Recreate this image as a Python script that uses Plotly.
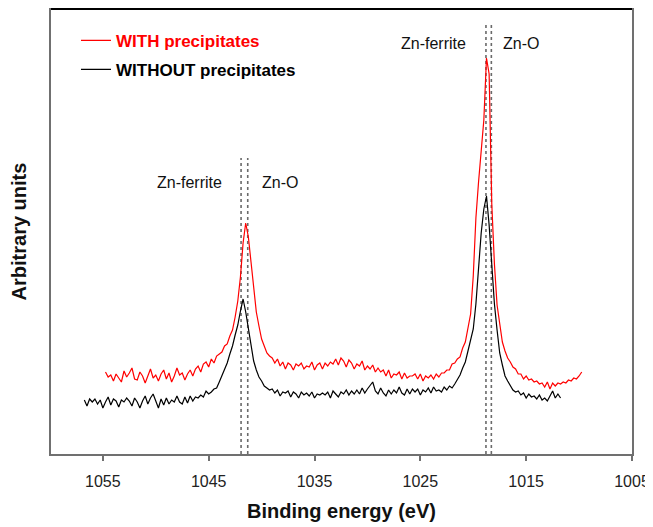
import plotly.graph_objects as go

# Binding energy grid (eV), 0.25 eV step
energy = [
    1056.75, 1056.50, 1056.25, 1056.00, 1055.75, 1055.50, 1055.25, 1055.00,
    1054.75, 1054.50, 1054.25, 1054.00, 1053.75, 1053.50, 1053.25, 1053.00,
    1052.75, 1052.50, 1052.25, 1052.00, 1051.75, 1051.50, 1051.25, 1051.00,
    1050.75, 1050.50, 1050.25, 1050.00, 1049.75, 1049.50, 1049.25, 1049.00,
    1048.75, 1048.50, 1048.25, 1048.00, 1047.75, 1047.50, 1047.25, 1047.00,
    1046.75, 1046.50, 1046.25, 1046.00, 1045.75, 1045.50, 1045.25, 1045.00,
    1044.75, 1044.50, 1044.25, 1044.00, 1043.75, 1043.50, 1043.25, 1043.00,
    1042.75, 1042.50, 1042.25, 1042.00, 1041.75, 1041.50, 1041.25, 1041.00,
    1040.75, 1040.50, 1040.25, 1040.00, 1039.75, 1039.50, 1039.25, 1039.00,
    1038.75, 1038.50, 1038.25, 1038.00, 1037.75, 1037.50, 1037.25, 1037.00,
    1036.75, 1036.50, 1036.25, 1036.00, 1035.75, 1035.50, 1035.25, 1035.00,
    1034.75, 1034.50, 1034.25, 1034.00, 1033.75, 1033.50, 1033.25, 1033.00,
    1032.75, 1032.50, 1032.25, 1032.00, 1031.75, 1031.50, 1031.25, 1031.00,
    1030.75, 1030.50, 1030.25, 1030.00, 1029.75, 1029.50, 1029.25, 1029.00,
    1028.75, 1028.50, 1028.25, 1028.00, 1027.75, 1027.50, 1027.25, 1027.00,
    1026.75, 1026.50, 1026.25, 1026.00, 1025.75, 1025.50, 1025.25, 1025.00,
    1024.75, 1024.50, 1024.25, 1024.00, 1023.75, 1023.50, 1023.25, 1023.00,
    1022.75, 1022.50, 1022.25, 1022.00, 1021.75, 1021.50, 1021.25, 1021.00,
    1020.75, 1020.50, 1020.25, 1020.00, 1019.75, 1019.50, 1019.25, 1019.00,
    1018.75, 1018.50, 1018.25, 1018.00, 1017.75, 1017.50, 1017.25, 1017.00,
    1016.75, 1016.50, 1016.25, 1016.00, 1015.75, 1015.50, 1015.25, 1015.00,
    1014.75, 1014.50, 1014.25, 1014.00, 1013.75, 1013.50, 1013.25, 1013.00,
    1012.75, 1012.50, 1012.25, 1012.00, 1011.75, 1011.50, 1011.25, 1011.00,
    1010.75, 1010.50, 1010.25, 1010.00, 1009.75,
]

# Intensity (arbitrary units) WITH precipitates; None where not recorded
with_precip = [
    None, None, None, None, None, None, None, None,
    82, 77, 79, 73, 80, 76, 72, 83,
    77, 81, 86, 75, 74, 82, 78, 71,
    78, 85, 76, 79, 73, 80, 84, 75,
    81, 72, 78, 86, 79, 81, 74, 80,
    84, 78, 85, 88, 82, 90, 92, 87,
    95, 91, 98, 100, 102, 108, 110, 118,
    124, 137, 153, 177, 211, 231, 217, 192,
    167, 142, 128, 115, 108, 101, 98, 96,
    91, 95, 88, 92, 85, 91, 89, 84,
    90, 88, 91, 85, 88, 87, 92, 84,
    89, 91, 85, 91, 88, 92, 90, 95,
    89, 96, 93, 87, 94, 91, 85, 90,
    88, 93, 84, 88, 85, 89, 82, 86,
    82, 84, 78, 84, 76, 80, 79, 82,
    75, 81, 76, 78, 78, 80, 75, 80,
    73, 78, 76, 79, 75, 80, 77, 81,
    81, 84, 84, 90, 91, 95, 97, 106,
    112, 126, 140, 178, 236, 272, 304, 334,
    396, 380, 250, 190, 149, 128, 112, 103,
    96, 92, 87, 85, 80, 80, 75, 78,
    74, 75, 72, 73, 70, 71, 67, 72,
    65, 71, 68, 71, 70, 72, 71, 74,
    73, 76, 75, 78, 82,
]

# Intensity (arbitrary units) WITHOUT precipitates
without_precip = [
    54, 48, 55, 52, 55, 50, 54, 46,
    52, 57, 49, 55, 53, 47, 54, 52,
    56, 53, 48, 56, 52, 46, 53, 58,
    50, 56, 60, 53, 46, 55, 49, 56,
    50, 54, 52, 58, 52, 50, 57, 51,
    58, 53, 57, 56, 59, 57, 63, 60,
    62, 65, 66, 72, 78, 85, 91, 100,
    108, 119, 129, 143, 155, 142, 124, 106,
    93, 84, 77, 73, 68, 66, 64, 65,
    61, 64, 58, 62, 61, 63, 57, 62,
    60, 56, 62, 59, 61, 58, 62, 56,
    60, 59, 61, 59, 62, 56, 63, 60,
    57, 62, 60, 64, 59, 63, 60, 64,
    60, 66, 61, 65, 68, 72, 63, 60,
    66, 61, 58, 64, 60, 64, 61, 67,
    61, 59, 65, 60, 65, 62, 65, 59,
    64, 62, 66, 61, 67, 63, 64, 62,
    67, 64, 68, 66, 70, 74, 79, 86,
    92, 103, 115, 125, 150, 186, 221, 245,
    258, 229, 191, 150, 124, 101, 89, 78,
    73, 68, 64, 62, 63, 59, 61, 56,
    60, 57, 58, 55, 59, 54, 56, 53,
    58, 63, 56, 60, 56, None, None, None,
    None, None, None, None, None,
]

# Reference positions (dotted lines) and their upper ends
ref_energies = [1041.94, 1041.31, 1018.80, 1018.29]
ref_tops = [296, 296, 432, 432]

# Peak labels
label_texts = ["Zn-ferrite", "Zn-O", "Zn-ferrite", "Zn-O"]
label_energies = [1046.85, 1038.26, 1023.72, 1015.50]
label_heights = [272, 272, 411, 411]

x_ticks = [1055, 1045, 1035, 1025, 1015, 1005]

FONT = "Arial, Liberation Sans, sans-serif"

fig = go.Figure()

for e, top in zip(ref_energies, ref_tops):
    fig.add_trace(go.Scatter(
        x=[e, e], y=[0, top], mode="lines",
        line=dict(color="#6a6a6a", width=1.6, dash="dot"),
        showlegend=False, hoverinfo="skip",
    ))

fig.add_trace(go.Scatter(
    x=energy, y=with_precip, mode="lines",
    line=dict(color="#ff0000", width=1.2),
    name="<span style='color:#ff0000'>WITH precipitates</span>",
    legendgroup="a",
))
fig.add_trace(go.Scatter(
    x=energy, y=without_precip, mode="lines",
    line=dict(color="#000000", width=1.2),
    name="WITHOUT precipitates",
    legendgroup="b",
))

for t, e, h in zip(label_texts, label_energies, label_heights):
    fig.add_annotation(x=e, y=h, xref="x", yref="y", text=t, showarrow=False,
                       font=dict(family=FONT, size=16, color="#111111"))

fig.add_shape(type="line", xref="paper", yref="paper", x0=0, x1=1, y0=1, y1=1,
              line=dict(color="#000000", width=2))

# page body adds an 8 px offset, so the figure is 8 px smaller each way
fig.update_layout(
    width=645, height=519,
    margin=dict(l=43, r=21, t=1, b=73, autoexpand=False),
    paper_bgcolor="white", plot_bgcolor="white",
    font=dict(family=FONT, color="#111111"),
    showlegend=True,
    legend=dict(
        x=0.043, y=0.969, xanchor="left", yanchor="top",
        bgcolor="rgba(0,0,0,0)", borderwidth=0,
        font=dict(family=FONT, size=17, color="#000000", weight="bold"),
        tracegroupgap=4, itemwidth=30,
    ),
    xaxis=dict(
        range=[1059.9, 1005], tickvals=x_ticks, automargin=False,
        ticks="outside", ticklen=5, tickcolor="#707070", tickwidth=1.5,
        tickfont=dict(family=FONT, size=16, color="#222222"),
        ticklabelstandoff=7,
        showline=True, linecolor="#707070", linewidth=2, mirror=True,
        showgrid=False, zeroline=False,
        title=dict(text="<b>Binding energy (eV)</b>", standoff=15,
                   font=dict(family=FONT, size=20, color="#111111")),
    ),
    yaxis=dict(
        range=[0, 445], showticklabels=False, ticks="", automargin=False,
        showline=True, linecolor="#707070", linewidth=2, mirror=True,
        showgrid=False, zeroline=False,
        title=dict(text="<b>Arbitrary units</b>", standoff=18,
                   font=dict(family=FONT, size=20, color="#111111")),
    ),
)

fig.write_html("out.html")
